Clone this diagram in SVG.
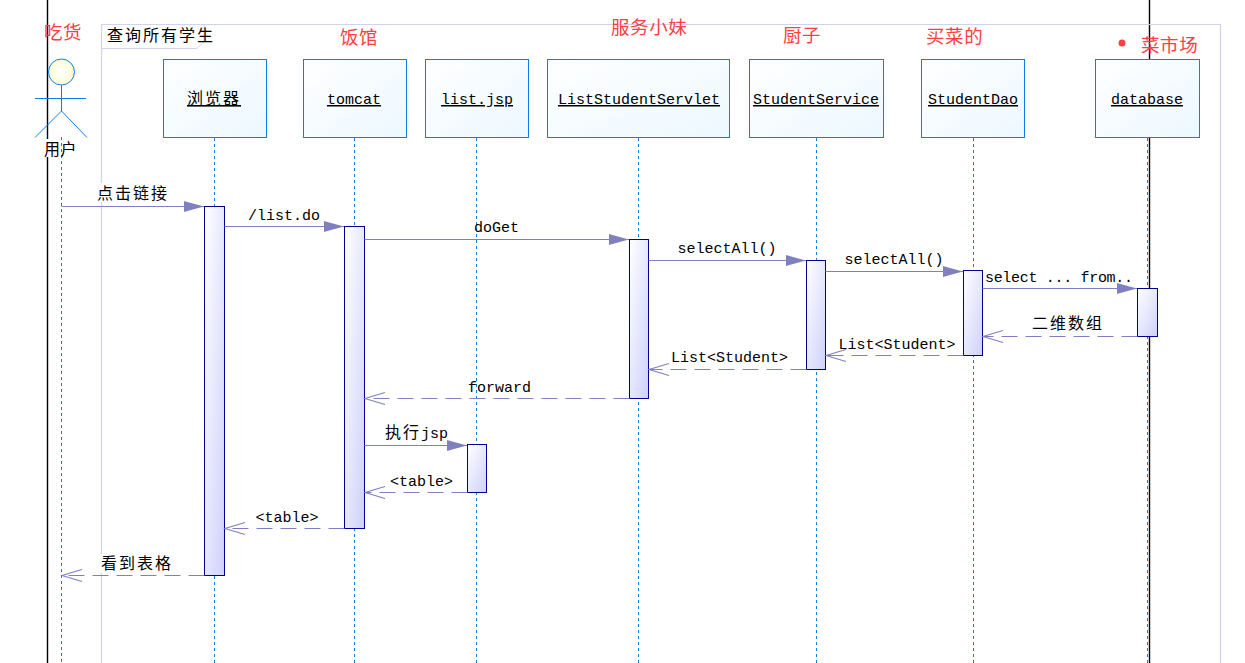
<svg xmlns="http://www.w3.org/2000/svg" width="1245" height="663" viewBox="0 0 1245 663">
<style>
text{font-family:"Liberation Mono","Noto Sans CJK SC",monospace;font-size:15px;fill:#000}
.cjk{font-family:"Noto Sans CJK SC","Liberation Sans",sans-serif;font-size:16px;letter-spacing:2px}
.red{font-family:"Noto Sans CJK SC","Liberation Sans",sans-serif;font-size:18.5px;fill:#ff4040;letter-spacing:.6px}
.u{text-decoration:underline}
.box{fill:url(#bg);stroke:#0f7fe8;stroke-width:1}
.life{stroke:#0f7fe8;stroke-width:1;stroke-dasharray:3 3;fill:none}
.act{fill:url(#ag);stroke:#000090;stroke-width:1}
.sync{stroke:#8080c0;stroke-width:1.2;fill:none;marker-end:url(#fill)}
.ret{stroke:#8080c0;stroke-width:1.2;fill:none;stroke-dasharray:16 8;marker-end:url(#open)}
.stick{stroke:#0f7fe8;stroke-width:1;fill:none}
</style>
<defs>
<linearGradient id="bg" x1="0" y1="0" x2="1" y2="1"><stop offset="0" stop-color="#fff"/><stop offset="1" stop-color="#ecf8ff"/></linearGradient>
<linearGradient id="ag" x1="0" y1="0" x2="1" y2="1"><stop offset="0" stop-color="#fff"/><stop offset="1" stop-color="#cfd0fb"/></linearGradient>
<radialGradient id="hg" cx=".5" cy=".5" r=".6"><stop offset="0" stop-color="#fff"/><stop offset="1" stop-color="#fbfbc8"/></radialGradient>
<marker id="fill" markerUnits="userSpaceOnUse" markerWidth="24" markerHeight="14" refX="21" refY="7" orient="auto"><path d="M1,1.5 L8,3.5 L21,7 L8,10.5 L1,12.5 z" fill="#8080c0"/></marker>
<marker id="open" markerUnits="userSpaceOnUse" markerWidth="24" markerHeight="16" refX="22" refY="8" orient="auto"><path d="M2,2 L22,8 L2,14" fill="none" stroke="#8080c0" stroke-width="1.1"/></marker>
</defs>
<rect width="1245" height="663" fill="#fff"/>

<g id="guides" fill="none" stroke="#000" stroke-width="1.4">
<path d="M47.5,0V663"/><path d="M1149.5,0V663"/>
</g>

<g id="frame">
<path d="M101.5,663V24.5H1220.5V663" fill="none" stroke="#d2d2ea" stroke-width="1.2"/>
<path d="M101.5,48.5H197L204,41.5V24.5" fill="none" stroke="#d2d2ea" stroke-width="1"/>
<text class="cjk" x="107" y="41">查询所有学生</text>
</g>

<g id="lifelines">
<path class="life" d="M214.5,138V663"/>
<path class="life" d="M354.5,138V663"/>
<path class="life" d="M476.5,138V663"/>
<path class="life" d="M638.5,138V663"/>
<path class="life" d="M816.5,138V663"/>
<path class="life" d="M973.5,138V663"/>
<path class="life" d="M1147.5,138V663"/>
</g>

<g id="actor-user">
<rect x="43" y="139" width="34" height="18" fill="#fff"/>
<path class="life" d="M61.5,137V663"/>
<circle cx="61.5" cy="72" r="13" fill="url(#hg)" stroke="#0f7fe8"/>
<path class="stick" d="M61.5,85V111M35,98.5H86M35,137.5L61.5,111L87,137.5"/>
<text class="cjk" x="44" y="155" style="letter-spacing:.5px">用户</text>
</g>

<g id="node-browser"><rect class="box" x="163.5" y="59.5" width="103" height="78"/><text class="cjk u" x="187" y="104">浏览器</text></g>
<g id="node-tomcat"><rect class="box" x="303.5" y="59.5" width="103" height="78"/><text class="u" x="354" y="104" text-anchor="middle">tomcat</text></g>
<g id="node-listjsp"><rect class="box" x="425.5" y="59.5" width="103" height="78"/><text class="u" x="477" y="104" text-anchor="middle">list.jsp</text></g>
<g id="node-servlet"><rect class="box" x="547.5" y="59.5" width="182" height="78"/><text class="u" x="639" y="104" text-anchor="middle">ListStudentServlet</text></g>
<g id="node-service"><rect class="box" x="749.5" y="59.5" width="134" height="78"/><text class="u" x="816" y="104" text-anchor="middle">StudentService</text></g>
<g id="node-dao"><rect class="box" x="921.5" y="59.5" width="103" height="78"/><text class="u" x="973" y="104" text-anchor="middle">StudentDao</text></g>
<g id="node-database"><rect class="box" x="1095.5" y="59.5" width="104" height="78"/><text class="u" x="1147" y="104" text-anchor="middle">database</text></g>

<g id="activations">
<rect class="act" x="204.5" y="206.5" width="20" height="369"/>
<rect class="act" x="344.5" y="226.5" width="20" height="302"/>
<rect class="act" x="467.5" y="444.5" width="19" height="48"/>
<rect class="act" x="629.5" y="239.5" width="19" height="159"/>
<rect class="act" x="806.5" y="260.5" width="19" height="109"/>
<rect class="act" x="963.5" y="270.5" width="19" height="85"/>
<rect class="act" x="1137.5" y="288.5" width="20" height="48"/>
</g>

<g id="connectors">
<path class="sync" d="M61.5,206.5H204"/>
<path class="sync" d="M224.5,226.5H344"/>
<path class="sync" d="M364.5,239.5H629"/>
<path class="sync" d="M648.5,260.5H806"/>
<path class="sync" d="M825.5,271.5H963"/>
<path class="sync" d="M982.5,288.5H1137"/>
<path class="sync" d="M364.5,445.5H467"/>
<path class="ret" d="M1137.5,336.5H983"/>
<path class="ret" d="M963.5,355.5H826"/>
<path class="ret" d="M806.5,369.5H649"/>
<path class="ret" d="M629.5,398.5H365"/>
<path class="ret" d="M467.5,492.5H365"/>
<path class="ret" d="M344.5,528.5H225"/>
<path class="ret" d="M204.5,575.5H62"/>
</g>

<g id="message-labels">
<rect x="97" y="183" width="72" height="19" fill="#fff"/>
<text class="cjk" x="97" y="199">点击链接</text>
<text x="248" y="220">/list.do</text>
<text x="474" y="232">doGet</text>
<text x="677.5" y="253">selectAll()</text>
<text x="844.5" y="264">selectAll()</text>
<text x="985" y="282" textLength="148">select ... from..</text>
<text class="cjk" x="1032" y="329">二维数组</text>
<text x="838.5" y="349">List&lt;Student&gt;</text>
<text x="671" y="362">List&lt;Student&gt;</text>
<text x="468" y="392">forward</text>
<text x="385" y="438"><tspan class="cjk">执行</tspan><tspan>jsp</tspan></text>
<text x="390" y="486">&lt;table&gt;</text>
<text x="255.5" y="522">&lt;table&gt;</text>
<rect x="100" y="554" width="74" height="19" fill="#fff"/>
<text class="cjk" x="101" y="569">看到表格</text>
</g>

<g id="annotations">
<text class="red" x="44" y="39">吃货</text>
<text class="red" x="340" y="44">饭馆</text>
<text class="red" x="611" y="34">服务小妹</text>
<text class="red" x="783" y="42">厨子</text>
<text class="red" x="926" y="43">买菜的</text>
<circle cx="1122" cy="43" r="3.5" fill="#ff4040"/>
<text class="red" x="1141" y="52">菜市场</text>
</g>
</svg>
